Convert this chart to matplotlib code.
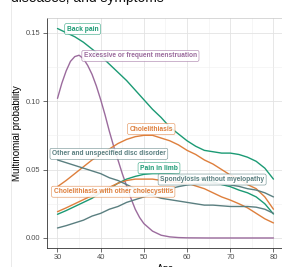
import matplotlib
matplotlib.use("Agg")
import matplotlib.pyplot as plt
from matplotlib.lines import Line2D

plt.rcParams['font.family'] = ['Liberation Sans', 'DejaVu Sans']

# ages on the x axis
ages = [30, 32, 34, 36, 38, 40, 42, 44, 46, 48, 50, 52, 54,
        56, 58, 60, 62, 64, 66, 68, 70, 72, 74, 76, 78, 80]
# the menstruation curve bends sharply, read at a finer step
ages_fine = [30, 31, 32, 33, 34, 35, 36, 37, 38, 39, 40, 41, 42, 43, 44, 45,
             46, 47, 48, 49, 50, 52, 54, 56, 58, 60, 65, 70, 75, 80]

back_pain = [0.153, 0.150, 0.147, 0.143, 0.138, 0.133, 0.127, 0.121, 0.115,
             0.108, 0.101, 0.094, 0.088, 0.081, 0.076, 0.071, 0.067, 0.064,
             0.063, 0.062, 0.062, 0.061, 0.059, 0.056, 0.051, 0.043]
menstruation = [0.102, 0.113, 0.122, 0.129, 0.1325, 0.1335, 0.131, 0.126,
                0.1195, 0.111, 0.101, 0.090, 0.078, 0.067, 0.057, 0.047,
                0.038, 0.029, 0.021, 0.015, 0.0105, 0.005, 0.002, 0.0008,
                0.0003, 0.0001, 0.0, 0.0, 0.0, 0.0]
cholelithiasis = [0.0375, 0.042, 0.047, 0.052, 0.057, 0.061, 0.065, 0.069,
                  0.072, 0.074, 0.075, 0.075, 0.073, 0.071, 0.068, 0.064,
                  0.061, 0.057, 0.054, 0.050, 0.046, 0.043, 0.039, 0.036,
                  0.030, 0.021]
pain_limb = [0.0173, 0.020, 0.023, 0.026, 0.029, 0.033, 0.036, 0.040, 0.043,
             0.045, 0.0465, 0.047, 0.047, 0.047, 0.046, 0.045, 0.044, 0.042,
             0.041, 0.039, 0.0375, 0.035, 0.033, 0.030, 0.025, 0.0175]
cholecystitis = [0.0192, 0.022, 0.025, 0.028, 0.031, 0.034, 0.037, 0.040,
                 0.042, 0.043, 0.043, 0.043, 0.042, 0.041, 0.0405, 0.040,
                 0.038, 0.036, 0.033, 0.030, 0.0277, 0.025, 0.022, 0.018,
                 0.014, 0.011]
spondylosis = [0.0073, 0.009, 0.011, 0.013, 0.016, 0.018, 0.021, 0.023, 0.026,
               0.028, 0.030, 0.032, 0.034, 0.036, 0.0375, 0.0387, 0.0395,
               0.040, 0.040, 0.0395, 0.0387, 0.0377, 0.036, 0.035, 0.033, 0.030]
disc_disorder = [0.057, 0.055, 0.053, 0.051, 0.049, 0.047, 0.044, 0.042, 0.039,
                 0.036, 0.034, 0.031, 0.029, 0.028, 0.027, 0.026, 0.025, 0.024,
                 0.024, 0.0235, 0.023, 0.023, 0.023, 0.0225, 0.021, 0.018]

labels = ["Back pain", "Excessive or frequent menstruation", "Cholelithiasis",
          "Pain in limb", "Cholelithiasis with other cholecystitis",
          "Spondylosis without myelopathy", "Other and unspecified disc disorder"]

GREEN = '#1b9a74'
ORANGE = '#de7f3c'
PURPLE = '#9b6b9d'
GREY = '#5a7f80'

series = [(ages, back_pain), (ages_fine, menstruation), (ages, cholelithiasis),
          (ages, pain_limb), (ages, cholecystitis), (ages, spondylosis),
          (ages, disc_disorder)]
colors = [GREEN, PURPLE, ORANGE, GREEN, ORANGE, GREY, GREY]
# where the repelled labels sit (age, probability)
label_pos = [(35.8, 0.1526), (49.2, 0.133), (51.7, 0.0796), (53.5, 0.051),
             (42.9, 0.0338), (65.8, 0.0427), (41.9, 0.0615)]

fig = plt.figure(figsize=(2.82, 2.67), dpi=100)
ax = fig.add_axes([0.1656, 0.0723, 0.8424, 0.8603])

for (xs, vals), col in zip(series, colors):
    ax.plot(xs, vals, color=col, lw=1.0, solid_capstyle='round',
            solid_joinstyle='round', zorder=3)

for lab, (x, y), col in zip(labels, label_pos, colors):
    ax.text(x, y, lab, color=col, fontsize=4.8, fontweight='bold',
            ha='center', va='center', zorder=5,
            bbox=dict(boxstyle='round,pad=0.3,rounding_size=0.25',
                      fc='white', ec=col, lw=0.4, alpha=0.9))

ax.set_xlim(27.5, 82.5)
ax.set_ylim(-0.0071, 0.1607)
ax.set_xticks([30, 40, 50, 60, 70, 80])
ax.set_xticks([35, 45, 55, 65, 75], minor=True)
ax.set_yticks([0.0, 0.05, 0.10, 0.15])
ax.set_yticks([0.025, 0.075, 0.125], minor=True)
ax.set_yticklabels(['0.00', '0.05', '0.10', '0.15'])
ax.grid(which='major', color='#e3e3e3', lw=0.6)
ax.grid(which='minor', color='#efefef', lw=0.4)
ax.set_axisbelow(True)
ax.tick_params(which='major', labelsize=5.4, labelcolor='#4d4d4d',
               color='#333333', length=3, width=0.5, pad=1.5)
ax.tick_params(which='minor', length=0)
for side in ['top', 'right']:
    ax.spines[side].set_color('#c8c8c8')
    ax.spines[side].set_linewidth(0.5)
for side in ['left', 'bottom']:
    ax.spines[side].set_color('#333333')
    ax.spines[side].set_linewidth(0.6)

ax.set_ylabel('Multinomial probability', fontsize=7, labelpad=3)
ax.set_xlabel('Age', fontsize=7, labelpad=2)

fig.text(0.04, 0.993, 'diseases, and symptoms', fontsize=10, ha='left',
         va='baseline', color='#111111')
fig.add_artist(Line2D([0.039, 0.039], [0, 1], transform=fig.transFigure,
                      color='#e6e6e6', lw=0.6))

fig.savefig('out.png', dpi=100)
